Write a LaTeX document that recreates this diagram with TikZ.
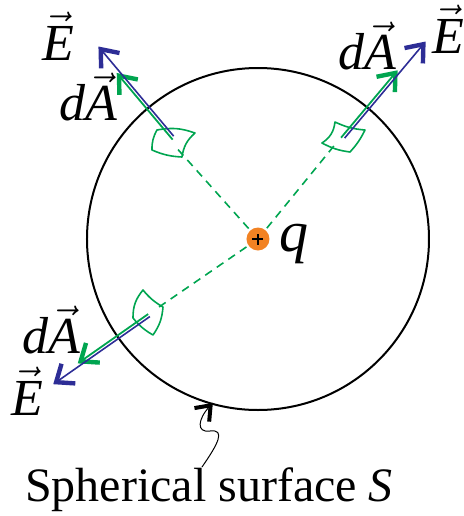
\documentclass[tikz,border=0pt]{standalone}
\usepackage{fontspec}
\setmainfont{Liberation Serif}
\usetikzlibrary{calc, arrows.meta}

\definecolor{fieldblue}{RGB}{45,45,150}
\definecolor{areagreen}{RGB}{0,165,80}
\definecolor{chargeorange}{RGB}{242,130,35}

\begin{document}
\begin{tikzpicture}[x=0.5pt, y=0.5pt,
    fieldvec/.style={fieldblue, line width=0.8pt, -{Straight Barb[length=7.5pt, width=12pt, line width=2.2pt]}},
    areavec/.style={areagreen, line width=0.9pt, -{Straight Barb[length=7.5pt, width=12pt, line width=2.2pt]}},
    patch/.style={areagreen, line width=0.8pt, line join=round},
    radial/.style={areagreen, line width=0.8pt, dash pattern=on 4pt off 3pt},
    pointer/.style={black, line width=0.5pt, -{Straight Barb[length=6.5pt, width=10pt, line width=2pt]}},
    lbl/.style={font=\fontsize{26}{30}\selectfont, inner sep=0pt}]

    % --- PARAMETERS ---
    \def\R{171}      % radius of the surface
    \def\rA{133}     % where the area elements sit
    \def\rD{121}     % end of the dashed radii

    \useasboundingbox (-258,-277) rectangle (205,239);

    % --- SURFACE ---
    \coordinate (Q) at (0,0);
    \draw[line width=1pt] (Q) circle (\R);

    % --- RADII (dashed) ---
    \draw[radial] (Q) -- (131.8:\rD) coordinate (Dtl);
    \draw[radial] (Q) -- (50.8:\rD) coordinate (Dtr);
    \draw[radial] (Q) -- (214.5:\rD) coordinate (Dbl);

    % --- AREA ELEMENTS ---
    \draw[patch] (-101,109) to[bend left=15] (-63,106) to[bend right=20] (-76,82)
        to[bend left=10] (-106,89) to[bend left=15] (-101,109) -- cycle;
    \draw[patch] (77,117) to[bend right=10] (107,109) to[bend left=8] (92,87)
        to[bend left=10] (64,96) to[bend right=25] (77,117) -- cycle;
    \draw[patch] (-115,-51) to[bend right=20] (-125,-79) to[bend right=10] (-105,-96)
        to[bend right=15] (-95,-68) to[bend left=10] (-115,-51) -- cycle;

    % --- VECTORS dA (green) and E (blue) ---
    % upper left
    \begin{scope}[rotate=130]
        \coordinate (Atl0) at (131,1.5);
        \coordinate (Atl1) at (218,1.5);
        \coordinate (Etl0) at (\rA,-1.5);
        \coordinate (Etl1) at (250,-1.5);
    \end{scope}
    % upper right
    \begin{scope}[rotate=50]
        \coordinate (Atr0) at (131,1.5);
        \coordinate (Atr1) at (219,1.5);
        \coordinate (Etr0) at (\rA,-1.5);
        \coordinate (Etr1) at (259,-1.5);
    \end{scope}
    % lower left
    \begin{scope}[rotate=215]
        \coordinate (Abl0) at (133,-1.5);
        \coordinate (Abl1) at (219,-1.5);
        \coordinate (Ebl0) at (\rA,1.5);
        \coordinate (Ebl1) at (251,1.5);
    \end{scope}
    \draw[areavec] (Atl0) -- (Atl1);
    \draw[fieldvec] (Etl0) -- (Etl1);
    \draw[areavec] (Atr0) -- (Atr1);
    \draw[fieldvec] (Etr0) -- (Etr1);
    \draw[areavec] (Abl0) -- (Abl1);
    \draw[fieldvec] (Ebl0) -- (Ebl1);

    % --- CHARGE ---
    \node[circle, fill=chargeorange, inner sep=0pt, minimum size=11.5pt] (charge) at (Q) {};
    \draw[line width=0.8pt] ($(charge.center)+(-5.5,0)$) -- ($(charge.center)+(5.5,0)$);
    \draw[line width=0.8pt] ($(charge.center)+(0,-5.5)$) -- ($(charge.center)+(0,5.5)$);
    \node[lbl, font=\fontsize{29}{34}\selectfont] (qlbl) at (36,-5) {\textit{q}};

    % --- LABELS ---
    \node[lbl] (Etl) at (-200,203) {$\vec{\textit{E}}$};
    \node[lbl] (dAtl) at (-170,142) {\textit{d}$\vec{\textit{A}}$};
    \node[lbl] (dAtr) at (109,193) {\textit{d}$\vec{\textit{A}}$};
    \node[lbl] (Etr) at (190,210) {$\vec{\textit{E}}$};
    \node[lbl] (dAbl) at (-207,-91) {\textit{d}$\vec{\textit{A}}$};
    \node[lbl] (Ebl) at (-231,-152) {$\vec{\textit{E}}$};

    % --- SURFACE NAME ---
    \node[font=\fontsize{24}{28}\selectfont, inner sep=0pt] (surf) at (-49,-251) {Spherical surface \textit{S}};
    \coordinate (ptail) at (-56,-228);
    \coordinate (ptip) at (254.6:170);
    \draw[pointer] (ptail) .. controls (-40,-205) and (-32,-190) .. (-48,-192)
        .. controls (-62,-194) and (-60,-180) .. (ptip);
\end{tikzpicture}
\end{document}
